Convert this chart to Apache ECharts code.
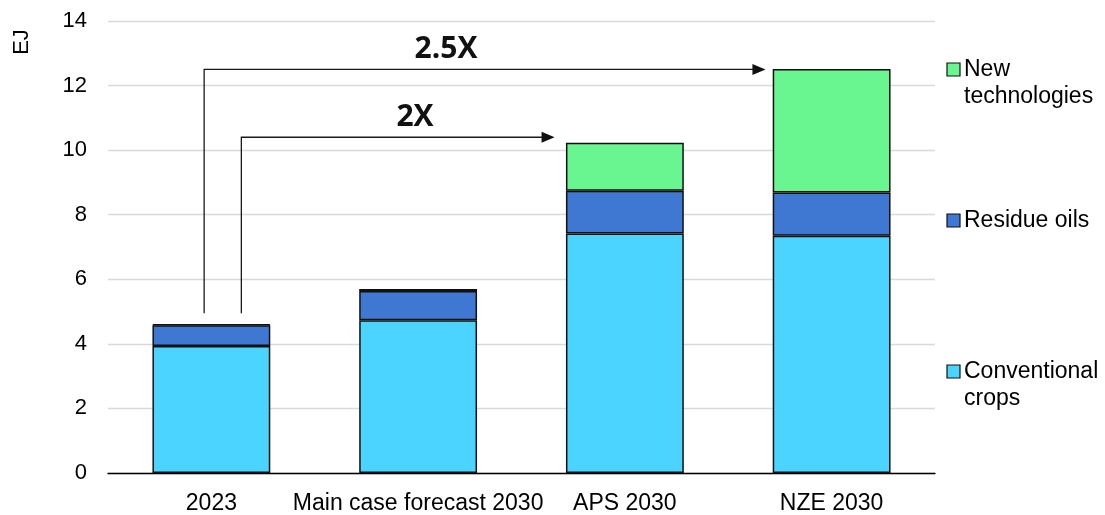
<!DOCTYPE html>
<html>
<head>
<meta charset="utf-8">
<script src="https://cdn.jsdelivr.net/npm/echarts@6/dist/echarts.min.js"></script>
<style>html,body{margin:0;padding:0;background:#fff}#c{width:1105px;height:515px}</style>
</head>
<body>
<div id="c"></div>
<script>
const categories = ['2023', 'Main case forecast 2030', 'APS 2030', 'NZE 2030'];
const conventionalCrops = [3.93, 4.73, 7.42, 7.35];
const residueOils = [0.65, 0.91, 1.32, 1.34];
const newTechnologies = [0.02, 0.06, 1.49, 3.82];
const yTicks = [0, 2, 4, 6, 8, 10, 12, 14];
const seriesNames = ['Conventional crops', 'Residue oils', 'New technologies'];
const legendLabels = { 'New technologies': ['New', 'technologies'], 'Residue oils': ['Residue oils'], 'Conventional crops': ['Conventional', 'crops'] };
const unitLabel = 'EJ';
const arrows = [
  { label: '2.5X', from: '2023', to: 'NZE 2030', level: 12.5, base: 4.95 },
  { label: '2X', from: '2023', to: 'APS 2030', level: 10.4, base: 4.95 }
];

const colors = ['#4AD4FF', '#3F78D3', '#69F590'];
const FONT = '"Liberation Sans", Arial, sans-serif';

const chart = echarts.init(document.getElementById('c'), null, { renderer: 'canvas' });
const mkSeries = (name, data, i) => ({
  name, type: 'bar', stack: 'total', data, barWidth: '57%',
  itemStyle: { color: colors[i], borderColor: '#111', borderWidth: 1.5 },
  emphasis: { disabled: true }, animation: false
});

chart.setOption({
  animation: false,
  grid: { left: 108, right: 170, top: 21, bottom: 42, containLabel: false },
  xAxis: {
    type: 'category', data: categories,
    axisLine: { lineStyle: { color: '#000', width: 1.3 } },
    axisTick: { show: false },
    axisLabel: { color: '#000', fontFamily: FONT, fontSize: 23, margin: 19, interval: 0, hideOverlap: false }
  },
  yAxis: {
    type: 'value', min: yTicks[0], max: yTicks[yTicks.length - 1], interval: 2,
    axisLine: { show: false }, axisTick: { show: false },
    splitLine: { lineStyle: { color: '#d9d9d9', width: 1.3 } },
    axisLabel: { color: '#000', fontFamily: FONT, fontSize: 22, margin: 21 }
  },
  series: [
    mkSeries(seriesNames[0], conventionalCrops, 0),
    mkSeries(seriesNames[1], residueOils, 1),
    mkSeries(seriesNames[2], newTechnologies, 2)
  ]
});

// Annotations and legend computed from the axes
const band = (1105 - 108 - 170) / categories.length;
const px = (cat, v) => chart.convertToPixel({ xAxisIndex: 0, yAxisIndex: 0 }, [cat, v]);
const g = [];
const lineStyle = { stroke: '#1a1a1a', lineWidth: 1.3, fill: null };
const startOffsets = [-0.035, 0.145];
const endOffsets = [-0.32, -0.34];
const labelOffsets = [1.135, 0.985]; // label x in category units from 'from'
arrows.forEach((a, i) => {
  const p0 = px(a.from, a.base);
  const p1 = px(a.to, a.level);
  const x0 = p0[0] + startOffsets[i] * band;
  const x1 = p1[0] + endOffsets[i] * band;
  const yb = p0[1], yl = p1[1];
  g.push({ type: 'polyline', shape: { points: [[x0, yb], [x0, yl], [x1 - 12, yl]] }, style: lineStyle, z: 10 });
  g.push({ type: 'polygon', shape: { points: [[x1 - 13, yl - 5.5], [x1, yl], [x1 - 13, yl + 5.5]] }, style: { fill: '#111' }, z: 10 });
  const lx = p0[0] + labelOffsets[i] * band;
  g.push({ type: 'text', x: lx, y: yl - 20, style: { text: a.label, font: 'bold 30px "Open Sans", sans-serif', fill: '#111', align: 'center', verticalAlign: 'middle' }, z: 10 });
});

// EJ unit label
g.push({ type: 'text', x: 22, y: 42, rotation: Math.PI / 2, style: { text: unitLabel, font: '22px ' + FONT, fill: '#000', align: 'center', verticalAlign: 'middle' } });

// Legend
const legendItems = [
  { name: 'New technologies', color: colors[2], y: 70 },
  { name: 'Residue oils', color: colors[1], y: 221 },
  { name: 'Conventional crops', color: colors[0], y: 372 }
];
legendItems.forEach(it => {
  g.push({ type: 'rect', shape: { x: 947, y: it.y - 7, width: 13, height: 13 }, style: { fill: it.color, stroke: '#111', lineWidth: 1.2 } });
  legendLabels[it.name].forEach((ln, k) => {
    g.push({ type: 'text', x: 964, y: it.y + k * 27, style: { text: ln, font: '23px ' + FONT, fill: '#000', align: 'left', verticalAlign: 'middle' } });
  });
});
chart.setOption({ graphic: g });
</script>
</body>
</html>
